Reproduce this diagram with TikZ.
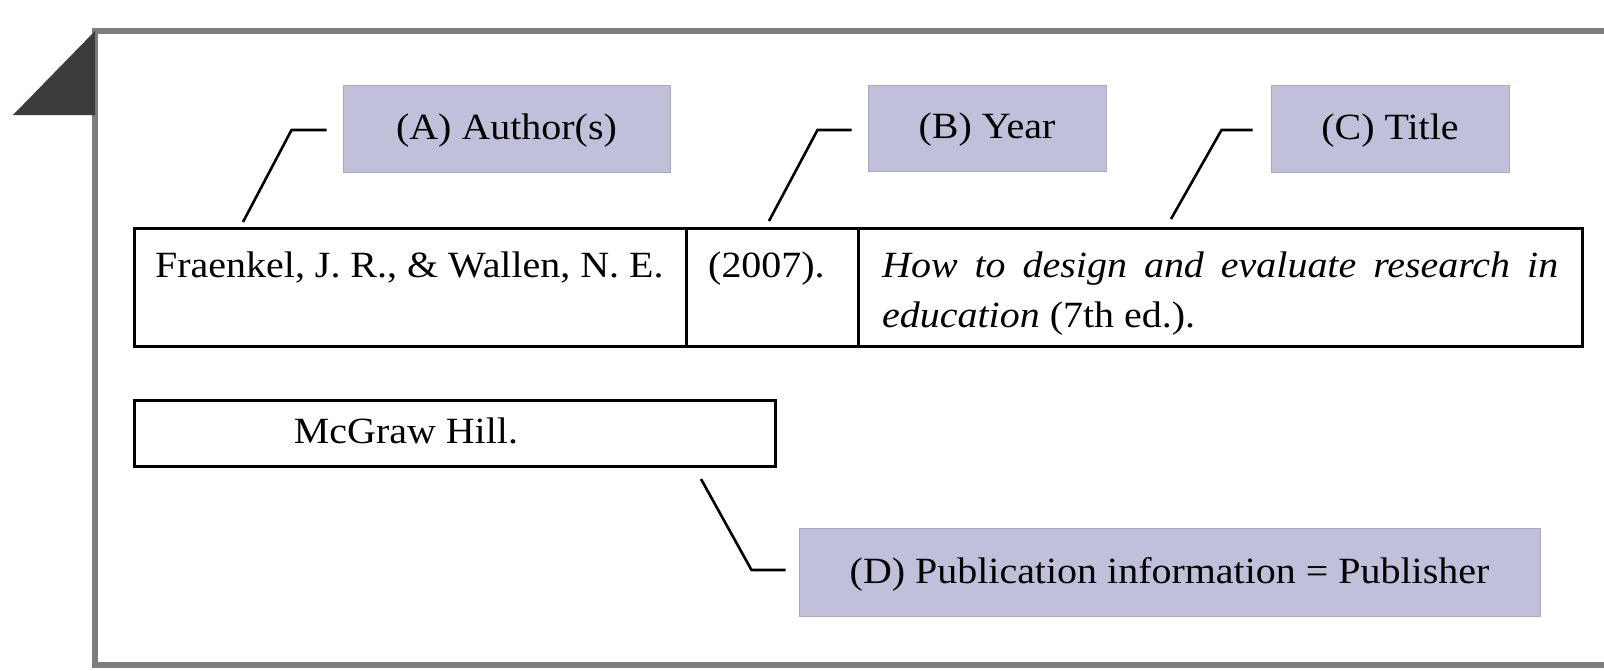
\documentclass[tikz,border=0pt]{standalone}
\usepackage{fontspec}
\setmainfont[FakeStretch=1.08]{Liberation Serif}
\definecolor{labfill}{RGB}{192,192,218}
\definecolor{labedge}{RGB}{170,170,190}
\definecolor{framegray}{RGB}{125,125,125}
\definecolor{tridark}{RGB}{60,60,60}
\begin{document}
\begin{tikzpicture}[x=1pt,y=-1pt,
  lab/.style={fill=labfill, draw=labedge, line width=1pt, inner sep=0pt, text depth=4pt, font=\fontsize{37}{50}\selectfont},
  cell/.style={draw=black, line width=2.6pt, inner sep=0pt, anchor=north west},
  txt/.style={inner sep=0pt, font=\fontsize{37}{50}\selectfont},
  leader/.style={draw=black, line width=2.6pt}]
\useasboundingbox (0,0) rectangle (1604,670);
\fill[white] (0,0) rectangle (1604,670);
% frame
\draw[framegray, line width=6pt] (1608,31) -- (95,31) -- (95,665) -- (1608,665);
\fill[tridark] (13,115) -- (95,31) -- (95,115) -- cycle;
% label boxes
\node[lab, minimum width=327pt, minimum height=87pt] (A) at (506.5,128.5) {(A) Author(s)};
\node[lab, minimum width=238pt, minimum height=86pt] (B) at (987,128) {(B) Year};
\node[lab, minimum width=238pt, minimum height=87pt] (C) at (1390,128.5) {(C) Title};
\node[lab, minimum width=741pt, minimum height=88pt] (D) at (1169.5,572) {(D) Publication information = Publisher};
% table cells
\node[cell, minimum width=552pt, minimum height=118pt] (ca) at (133,227) {};
\node[cell, minimum width=172pt, minimum height=118pt] (cb) at (685,227) {};
\node[cell, minimum width=724pt, minimum height=118pt] (cc) at (857,227) {};
\node[cell, minimum width=641pt, minimum height=66pt] (mh) at (133,399) {};
% texts
\node[txt, anchor=base west] (ta) at (155,277) {Fraenkel, J. R., \& Wallen, N. E.};
\node[txt, anchor=base west] (tb) at (708,277) {(2007).};
\node[txt, anchor=base west] (tc) at (882,277) {\parbox[t]{676pt}{\fontsize{37}{50}\selectfont\textit{How to design and evaluate research in}\linebreak \textit{education} (7th ed.).}};
\node[txt, anchor=base] (tm) at (406,443) {McGraw Hill.};
% leaders
\coordinate (a0) at (243,222);
\coordinate (b0) at (769,221);
\coordinate (c0) at (1171,219);
\coordinate (d0) at (701,479);
\draw[leader] (a0) -- ([xshift=-51pt,yshift=-1.5pt]A.west) -- ([xshift=-16pt,yshift=-1.5pt]A.west);
\draw[leader] (b0) -- ([xshift=-50pt,yshift=-2pt]B.west) -- ([xshift=-16pt,yshift=-2pt]B.west);
\draw[leader] (c0) -- ([xshift=-49pt,yshift=-1.5pt]C.west) -- ([xshift=-18pt,yshift=-1.5pt]C.west);
\draw[leader] (d0) -- ([xshift=-47pt,yshift=2pt]D.west) -- ([xshift=-13pt,yshift=2pt]D.west);
\end{tikzpicture}
\end{document}
